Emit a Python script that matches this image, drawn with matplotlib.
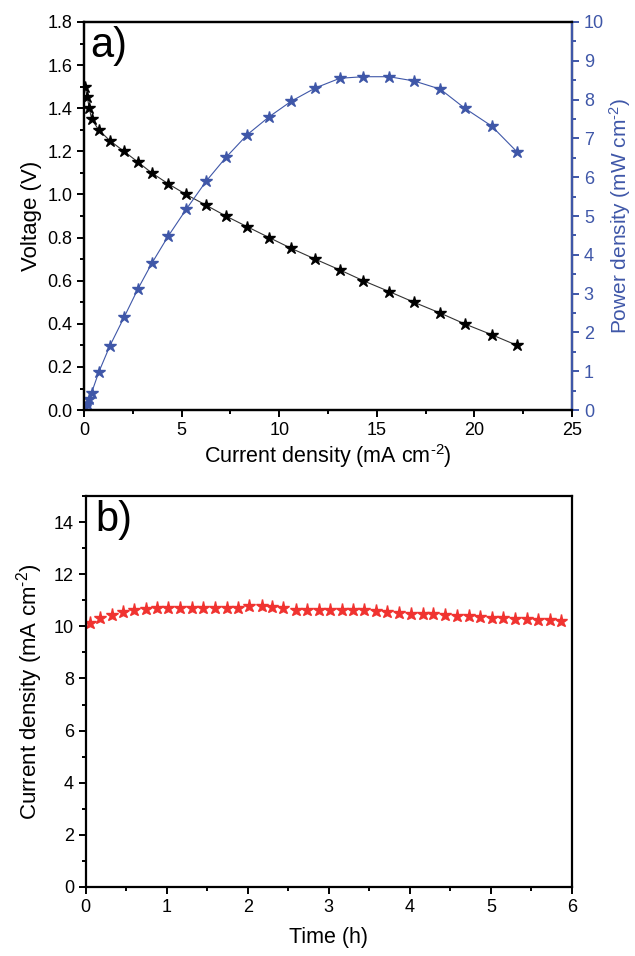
import numpy as np
import matplotlib.pyplot as plt
from matplotlib.ticker import MultipleLocator

plt.rcParams['font.family'] = ['Liberation Sans', 'DejaVu Sans']
plt.rcParams['mathtext.default'] = 'regular'

# panel a: polarisation curve
current = [0.05, 0.17, 0.27, 0.39, 0.75, 1.32, 2.05, 2.77, 3.47, 4.31, 5.23,
           6.26, 7.27, 8.37, 9.49, 10.62, 11.85, 13.11, 14.31, 15.63, 16.91,
           18.25, 19.5, 20.88, 22.19]
voltage = [1.5, 1.45, 1.4, 1.35, 1.3, 1.25, 1.2, 1.15, 1.1, 1.05, 1.0, 0.95,
           0.9, 0.85, 0.8, 0.75, 0.7, 0.65, 0.6, 0.55, 0.5, 0.45, 0.4, 0.35, 0.3]
power = [0.09, 0.17, 0.28, 0.45, 0.97, 1.65, 2.39, 3.13, 3.78, 4.48, 5.17,
         5.90, 6.51, 7.10, 7.56, 7.96, 8.30, 8.55, 8.59, 8.59, 8.48, 8.27,
         7.78, 7.32, 6.65]

# panel b: stability test
time_h = [0.05, 0.18, 0.32, 0.46, 0.60, 0.74, 0.88, 1.02, 1.16, 1.31, 1.45,
          1.60, 1.74, 1.88, 2.02, 2.17, 2.30, 2.44, 2.59, 2.73, 2.88, 3.02,
          3.16, 3.30, 3.44, 3.58, 3.72, 3.87, 4.02, 4.16, 4.29, 4.43, 4.58,
          4.73, 4.87, 5.01, 5.15, 5.30, 5.44, 5.58, 5.73, 5.87]
j_stab = [10.13, 10.33, 10.45, 10.54, 10.61, 10.66, 10.70, 10.70, 10.70,
          10.70, 10.70, 10.70, 10.70, 10.72, 10.76, 10.76, 10.74, 10.72,
          10.64, 10.61, 10.61, 10.64, 10.64, 10.64, 10.61, 10.58, 10.54,
          10.51, 10.48, 10.48, 10.46, 10.43, 10.41, 10.38, 10.36, 10.33,
          10.30, 10.28, 10.28, 10.26, 10.23, 10.20]

blue = '#3F57A8'
red = '#F03330'
unit = 'cm$^{\u2010' + '2}$'

fig = plt.figure(figsize=(6.35, 9.56), dpi=100)
ax1 = fig.add_axes([0.1323, 0.571, 0.7685, 0.406])
ax2 = ax1.twinx()
ax3 = fig.add_axes([0.135, 0.0722, 0.7657, 0.409])

def style(ax):
    for s in ax.spines.values():
        s.set_linewidth(1.6)
    ax.tick_params(which='both', direction='out', width=1.4, labelsize=13)
    ax.tick_params(which='major', length=5)
    ax.tick_params(which='minor', length=3)

# panel a
ax1.plot(current, voltage, color='#333333', lw=0.8, marker='*', ms=9,
         mfc='black', mec='black')
ax2.plot(current, power, color=blue, lw=0.8, marker='*', ms=9,
         mfc=blue, mec=blue)
ax1.set_xlim(0, 25)
ax1.set_ylim(0, 1.8)
ax2.set_ylim(0, 10)
ax1.xaxis.set_major_locator(MultipleLocator(5))
ax1.xaxis.set_minor_locator(MultipleLocator(2.5))
ax1.yaxis.set_major_locator(MultipleLocator(0.2))
ax1.yaxis.set_minor_locator(MultipleLocator(0.1))
ax2.yaxis.set_major_locator(MultipleLocator(1))
ax2.yaxis.set_minor_locator(MultipleLocator(0.5))
ax1.yaxis.set_major_formatter(plt.FormatStrFormatter('%.1f'))
style(ax1)
style(ax2)
ax2.spines['right'].set_color(blue)
ax2.tick_params(axis='y', which='both', colors=blue)
ax1.set_xlabel('Current density (mA ' + unit + ')', fontsize=15.5, labelpad=2)
ax1.set_ylabel('Voltage (V)', fontsize=16, labelpad=4)
ax2.set_ylabel('Power density (mW ' + unit + ')', fontsize=15, color=blue,
               labelpad=2)
ax1.text(0.012, 0.99, 'a)', transform=ax1.transAxes, fontsize=30,
         va='top', ha='left')

# panel b
ax3.plot(time_h, j_stab, ls='none', marker='*', ms=9.5, mfc=red, mec=red)
ax3.set_xlim(0, 6)
ax3.set_ylim(0, 15)
ax3.xaxis.set_major_locator(MultipleLocator(1))
ax3.xaxis.set_minor_locator(MultipleLocator(0.5))
ax3.yaxis.set_major_locator(MultipleLocator(2))
ax3.yaxis.set_minor_locator(MultipleLocator(1))
style(ax3)
ax3.set_xlabel('Time (h)', fontsize=15.5, labelpad=8)
ax3.set_ylabel('Current density (mA ' + unit + ')', fontsize=16, labelpad=6)
ax3.text(0.02, 0.99, 'b)', transform=ax3.transAxes, fontsize=30,
         va='top', ha='left')

fig.savefig('out.png', dpi=100)
